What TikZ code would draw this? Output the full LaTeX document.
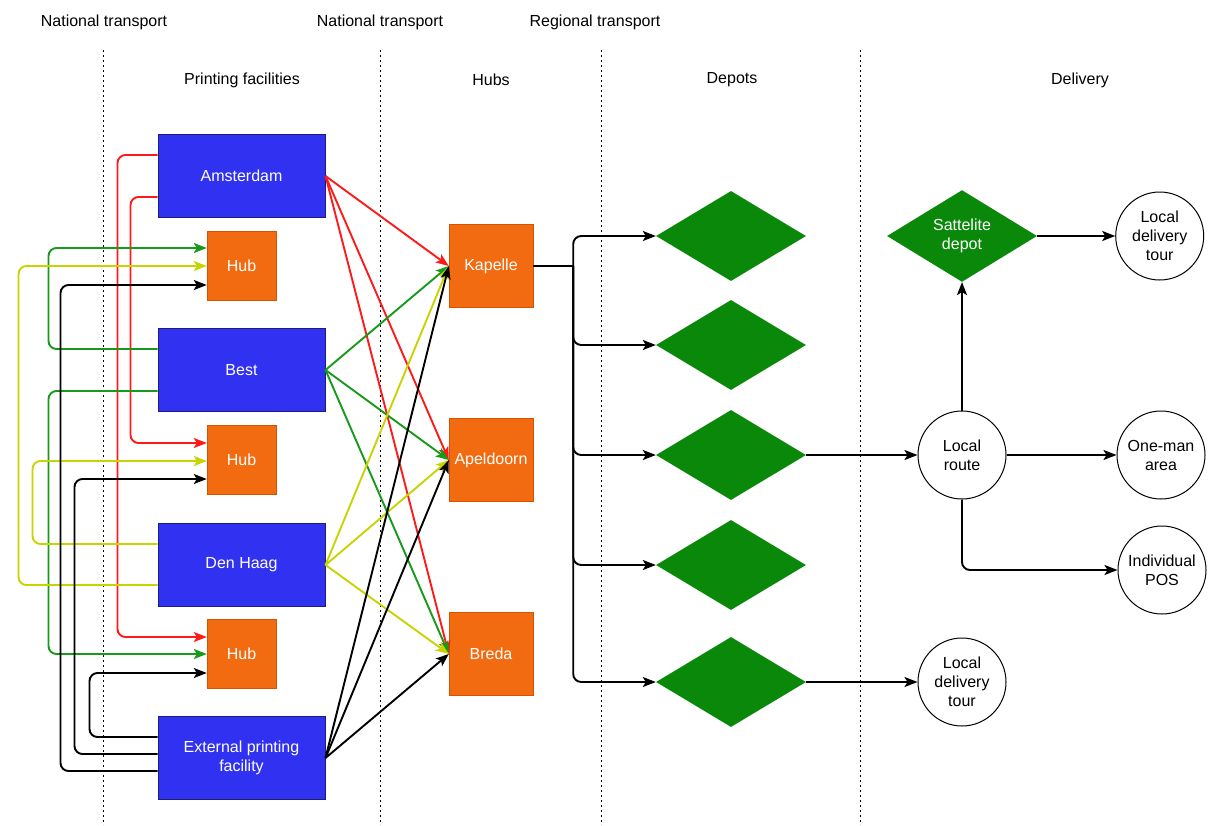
\documentclass[tikz,border=0pt]{standalone}
\usepackage{fontspec}
\setmainfont{Liberation Sans}
\usetikzlibrary{positioning,arrows.meta,shapes.geometric}
\definecolor{facBlue}{HTML}{3131F2}
\definecolor{facEdge}{HTML}{1C1C7A}
\definecolor{hubOrange}{HTML}{F36B10}
\definecolor{hubEdge}{HTML}{D25400}
\definecolor{depotGreen}{HTML}{0A880A}
\definecolor{wireRed}{HTML}{FF1A1A}
\definecolor{wireGreen}{HTML}{17991A}
\definecolor{wireYellow}{HTML}{C8D400}

\begin{document}
\begin{tikzpicture}[x=1pt,y=-1pt,font=\fontsize{16}{19}\selectfont,
      plant/.style={draw=facEdge,line width=1pt,fill=facBlue,text=white,minimum width=167pt,minimum height=83pt,align=center},
      minihub/.style={draw=hubEdge,fill=hubOrange,text=white,minimum width=69pt,minimum height=69pt},
      bighub/.style={draw=hubEdge,fill=hubOrange,text=white,minimum width=84pt,minimum height=83pt,inner sep=1pt},
      depot/.style={diamond,fill=depotGreen,minimum width=150pt,minimum height=90pt,inner sep=0pt,text=white,align=center},
      stop/.style={circle,draw,line width=1pt,minimum size=88pt,inner sep=0pt,align=center},
      wire/.style={line width=1.9pt,rounded corners=8pt,-{Stealth[length=13pt,width=10pt,inset=3pt]}},
      lane/.style={dash pattern=on 2pt off 3pt,line width=0.8pt}]
    \useasboundingbox (0,0) rectangle (1210,825);

    % column titles
    \node (natA) at (104,22) {National transport};
    \node (natB) at (380,22) {National transport};
    \node (reg) at (595,22) {Regional transport};
    \node (tPrint) at (242,80) {Printing facilities};
    \node (tHubs) at (491,80) {Hubs};
    \node (tDepots) at (732,80) {Depots};
    \node (tDeliv) at (1080,80) {Delivery};

    \foreach \xx in {103,380,601,860}
      \draw[lane] (\xx,50) -- (\xx,825);

    % printing facilities and their small hubs
    \node[plant] (ams) at (241.5,176) {Amsterdam};
    \node[plant] (best) at (241.5,370) {Best};
    \node[plant] (dh) at (241.5,565) {Den Haag};
    \node[plant] (ext) at (241.5,758) {External printing\\facility};
    \node[minihub] (hubA) at (241.5,266) {Hub};
    \node[minihub] (hubB) at (241.5,460) {Hub};
    \node[minihub] (hubC) at (241.5,654) {Hub};

    % national hubs
    \node[bighub] (kap) at (491,266) {Kapelle};
    \node[bighub] (ape) at (491,460) {Apeldoorn};
    \node[bighub] (bre) at (491,654) {Breda};

    % depots
    \node[depot] (d1) at (731,236) {};
    \node[depot] (d2) at (731,345) {};
    \node[depot] (d3) at (731,455) {};
    \node[depot] (d4) at (731,565) {};
    \node[depot] (d5) at (731,682) {};

    % delivery
    \node[stop] (lr) at (962,455) {Local\\route};
    \node[depot] (sat) at (962,236) {Sattelite\\depot};
    \node[stop,right=110pt of lr] (one) {One-man\\area};
    \node[stop] (pos) at (1162,570) {Individual\\POS};
    \node[stop,right=78pt of sat] (ldtA) {Local\\delivery\\tour};
    \node[stop] (ldtB) at (962,682) {Local\\delivery\\tour};

    % routes back to the small hubs
    \draw[wire,wireRed] ([yshift=21pt]ams.west) -- ++(-40,0) |- ([yshift=17pt]hubC.west);
    \draw[wire,wireRed] ([yshift=-21pt]ams.west) -- ++(-27,0) |- ([yshift=17pt]hubB.west);
    \draw[wire,wireGreen] ([yshift=21pt]best.west) -- ++(-109,0) |- ([yshift=18pt]hubA.west);
    \draw[wire,wireGreen] ([yshift=-21pt]best.west) -- ++(-109,0) |- (hubC.west);
    \draw[wire,wireYellow] ([yshift=21pt]dh.west) -- ++(-125,0) |- ([yshift=-1pt]hubB.west);
    \draw[wire,wireYellow] ([yshift=-20pt]dh.west) -- ++(-139,0) |- (hubA.west);
    \draw[wire] ([yshift=21pt]ext.west) -- ++(-68,0) |- ([yshift=-19pt]hubC.west);
    \draw[wire] ([yshift=4pt]ext.west) -- ++(-83,0) |- ([yshift=-19pt]hubB.west);
    \draw[wire] ([yshift=-13pt]ext.west) -- ++(-97,0) |- ([yshift=-19pt]hubA.west);

    % national transport to the hubs
    \foreach \src/\col in {ams/wireRed,best/wireGreen,dh/wireYellow,ext/black}
      \foreach \dst in {kap,ape,bre}
        \draw[wire,\col] (\src.east) -- (\dst.west);

    % regional transport
    \draw[line width=1.9pt] (kap.east) -- ++(40,0) coordinate (fork);
    \foreach \dst in {d1,d2,d3,d4,d5}
      \draw[wire] (fork) |- (\dst.west);

    \draw[wire] (d3.east) -- (lr.west);
    \draw[wire] (d5.east) -- (ldtB.west);
    \draw[wire] (lr.east) -- (one.west);
    \draw[wire] (lr.south) |- (pos.west);
    \draw[wire] (lr.north) -- (sat.south);
    \draw[wire] (sat.east) -- (ldtA.west);
  \end{tikzpicture}
\end{document}
